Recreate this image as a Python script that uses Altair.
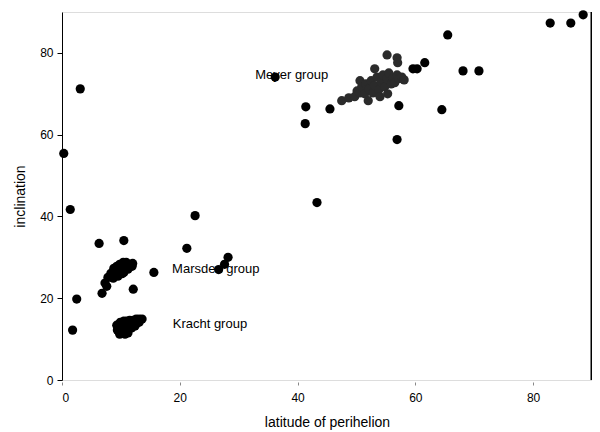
import altair as alt
import pandas as pd

# isolated points (latitude of perihelion, inclination)
iso_x = [3.1, 0.3, 1.4, 2.5, 1.8, 6.3, 10.5, 12.1, 15.6, 21.2, 22.6, 28.2, 27.6, 26.6,
         41.4, 41.3, 43.3, 45.5, 36.2, 57.2, 56.9, 59.6, 60.3, 61.6, 64.5, 65.5, 68.1,
         70.8, 82.9, 86.4, 88.5]
iso_y = [71.2, 55.4, 41.7, 19.8, 12.2, 33.4, 34.1, 22.2, 26.3, 32.2, 40.2, 30.0, 28.3, 27.0,
         66.8, 62.7, 43.4, 66.3, 74.1, 67.1, 58.8, 76.1, 76.1, 77.6, 66.1, 84.4, 75.6,
         75.6, 87.3, 87.3, 89.3]

# Marsden group
mars_x = [6.8, 7.3, 7.8, 8.3, 8.8, 9.3, 9.8, 10.4, 10.9, 11.5, 11.9, 11.2, 10.5, 9.7,
          9.2, 10.0, 10.7, 12.0, 8.7, 7.6, 9.5, 10.2]
mars_y = [21.2, 23.7, 25.1, 26.1, 27.3, 27.8, 28.3, 28.8, 28.8, 28.3, 27.8, 27.1, 26.3, 26.6,
          25.9, 27.6, 27.8, 28.5, 24.9, 22.9, 25.4, 26.0]

# Kracht group
kr_x = [9.3, 9.4, 9.9, 10.0, 10.0, 10.5, 10.5, 10.5, 11.0, 11.0, 11.0, 11.5, 11.5, 11.5,
        12.1, 12.1, 12.6, 12.6, 13.1, 13.1, 13.6, 9.8, 10.7, 11.8, 12.4, 10.3, 11.2]
kr_y = [13.4, 12.2, 14.1, 12.9, 11.7, 14.4, 13.2, 12.0, 14.4, 13.4, 12.2, 14.6, 13.7, 12.7,
        14.6, 13.7, 14.9, 13.9, 14.9, 14.1, 14.9, 11.2, 11.2, 12.7, 13.2, 11.6, 11.5]

# Meyer group
mey_x = [47.5, 48.7, 50.1, 50.6, 52.0, 53.1, 55.2, 56.9, 57.0, 49.7, 50.6, 50.9, 51.4,
         51.6, 52.1, 52.5, 52.8, 53.1, 53.5, 53.8, 54.2, 54.5, 54.8, 55.2, 55.5, 55.9,
         56.2, 56.5, 56.9, 57.2, 57.7, 58.1, 55.3, 54.0]
mey_y = [68.3, 69.0, 70.7, 73.2, 68.3, 76.1, 79.5, 78.8, 77.6, 69.3, 70.2, 71.7, 70.0,
         72.4, 71.2, 73.2, 70.2, 72.0, 74.1, 71.0, 72.9, 74.6, 71.7, 73.7, 75.1, 72.4,
         73.9, 72.7, 74.6, 73.7, 74.1, 73.4, 70.0, 69.3]

lab_text = ["Meyer group", "Marsden group", "Kracht group"]
lab_x = [32.8, 18.7, 18.8]
lab_y = [74.6, 27.1, 13.7]

pts = pd.DataFrame({
    "lat": iso_x + mars_x + kr_x + mey_x,
    "inc": iso_y + mars_y + kr_y + mey_y,
    "grp": ["a"] * (len(iso_x) + len(mars_x) + len(kr_x)) + ["m"] * len(mey_x),
})
labs = pd.DataFrame({"t": lab_text, "x": lab_x, "y": lab_y})
edge = pd.DataFrame({"x": [90], "y0": [0], "y1": [90]})

xs = alt.Scale(domain=[0, 90], nice=False, zero=False)
ys = alt.Scale(domain=[0, 90], nice=False, zero=False)

xax = alt.Axis(values=[0, 20, 40, 60, 80], domain=False, grid=False, tickSize=3,
               tickColor="#888", offset=2, labelFontSize=12,
               labelColor="black", labelFont="Liberation Sans", labelPadding=7,
               title="latitude of perihelion", titleFontSize=14, titleFontWeight="normal",
               titleFont="Liberation Sans", titleColor="black", titlePadding=12)
yax = alt.Axis(values=[0, 20, 40, 60, 80], domain=True, domainColor="black", grid=False,
               tickSize=5, tickColor="black", labelFontSize=12, labelColor="black",
               labelFont="Liberation Sans", labelPadding=4,
               title="inclination", titleFontSize=14, titleFontWeight="normal",
               titleFont="Liberation Sans", titleColor="black", titlePadding=12)

labels = alt.Chart(labs).mark_text(align="left", baseline="middle", fontSize=13,
                                   font="Liberation Sans", color="black").encode(
    x=alt.X("x:Q", scale=xs, axis=xax), y=alt.Y("y:Q", scale=ys, axis=yax), text="t:N")

dots = alt.Chart(pts).mark_circle(size=85, opacity=1).encode(
    x=alt.X("lat:Q", scale=xs, axis=xax),
    y=alt.Y("inc:Q", scale=ys, axis=yax),
    color=alt.Color("grp:N", scale=alt.Scale(domain=["a", "m"], range=["#000000", "#2b2b2b"]),
                    legend=None),
)

rule = alt.Chart(edge).mark_rule(color="black", strokeWidth=3).encode(
    x=alt.X("x:Q", scale=xs, axis=xax), y=alt.Y("y0:Q", scale=ys, axis=yax), y2="y1:Q")

chart = alt.layer(labels, dots, rule).properties(
    width=530, height=368,
    autosize=alt.AutoSizeParams(type="none"),
    padding={"left": 54, "top": 4, "right": 0, "bottom": 52},
).configure_view(stroke="transparent").configure(background="white")

chart.save("out.html", embed_options={"renderer": "svg", "actions": False})
